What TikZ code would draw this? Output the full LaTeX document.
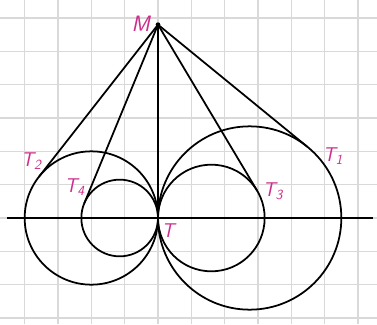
\documentclass[tikz,border=0pt]{standalone}
\usepackage{xcolor}
\usepackage{tikz}
\usetikzlibrary{positioning}
\usetikzlibrary{calc}

\definecolor{labelpink}{RGB}{205,45,140}

\begin{document}
\begin{tikzpicture}[line width=1.5pt,
  gridline/.style={line width=1.1pt,draw=black!15},
  tcircle/.style={circle,draw,inner sep=0pt,outer sep=0pt},
  plabel/.style={text=labelpink,font=\sffamily\itshape\fontsize{17}{17}\selectfont,inner sep=1pt}]
\useasboundingbox (-4.74,-3.18) rectangle (6.57,6.54);
\draw[gridline] (-4.74,-3.18) grid (6.57,6.54);
\coordinate (T) at (0,0);
\coordinate (M) at (0,5.8);
\coordinate (axl) at (-4.53,0);
\coordinate (axr) at (6.45,0);
% the four circles, all touching at T
\node[tcircle,minimum size=4cm] (kone) at (-2,0) {};
\node[tcircle,minimum size=2.3cm] (ktwo) at (-1.15,0) {};
\node[tcircle,minimum size=3.2cm] (kthree) at (1.6,0) {};
\node[tcircle,minimum size=5.5cm] (kfour) at (2.75,0) {};
% second tangent points from M
\coordinate (pone) at ($(kone.center)!(T)!(M)$);
\coordinate (ptwo) at ($(ktwo.center)!(T)!(M)$);
\coordinate (pthree) at ($(kthree.center)!(T)!(M)$);
\coordinate (pfour) at ($(kfour.center)!(T)!(M)$);
\coordinate (Tone) at ($(T)!2!(pone)$);
\coordinate (Ttwo) at ($(T)!2!(ptwo)$);
\coordinate (Tthree) at ($(T)!2!(pthree)$);
\coordinate (Tfour) at ($(T)!2!(pfour)$);
\draw (axl) -- (axr);
\draw (M) -- (T);
\draw (M) -- (Tone);
\draw (M) -- (Ttwo);
\draw (M) -- (Tthree);
\draw (M) -- (Tfour);
\fill (M) circle (2pt);
% labels
\node[plabel,font=\sffamily\itshape\fontsize{19}{19}\selectfont] (Mlab) at (-0.52,5.82) {M};
\node[plabel] (Tlab) at (0.3,-0.38) {T};
\node[plabel] (Tonelab) at (-3.8,1.72) {T\textsubscript{2}};
\node[plabel] (Ttwolab) at (-2.5,0.93) {T\textsubscript{4}};
\node[plabel] (Tthreelab) at (3.45,0.8) {T\textsubscript{3}};
\node[plabel] (Tfourlab) at (5.25,1.85) {T\textsubscript{1}};
\end{tikzpicture}
\end{document}
